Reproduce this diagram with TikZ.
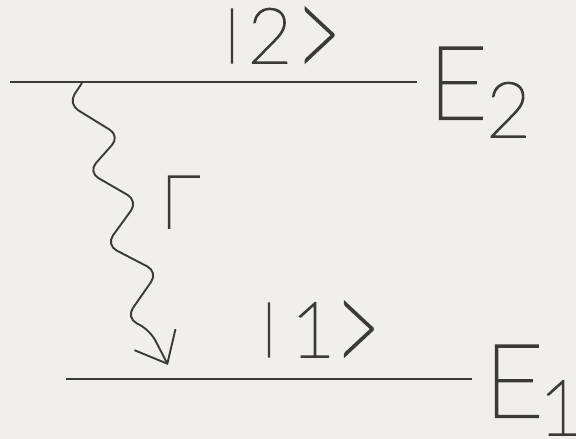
\documentclass[tikz,border=0pt]{standalone}
\usepackage{fontspec}
\newfontfamily\hair{Lato Hairline}[FakeBold=2.2]
\usetikzlibrary{arrows.meta}
\definecolor{bg}{HTML}{F0EFEB}
\definecolor{ink}{HTML}{3A3A3A}
\newcommand{\tallgt}{\raisebox{-19.3pt}{\scalebox{1}[1.83]{>}}}
\newcommand{\shortbar}{\raisebox{10.5pt}{\scalebox{1}[0.75]{|}}}
\begin{document}
\begin{tikzpicture}[x=1pt,y=-1pt,
  level/.style={draw=ink,line width=1.8pt},
  wave/.style={draw=ink,line width=1.9pt,rounded corners=12pt,line join=miter,
    -{Straight Barb[length=27pt,width=46pt,line join=miter]}},
  lbl/.style={inner sep=0pt,anchor=base west,text=ink}]
\fill[bg] (0,0) rectangle (576,439);
\useasboundingbox (0,0) rectangle (576,439);
% levels
\coordinate (t1) at (10,82);  \coordinate (t2) at (417,82);
\coordinate (b1) at (66,379); \coordinate (b2) at (472,379);
\draw[level] (t1) -- (t2);
\draw[level] (b1) -- (b2);
% labels
\node[lbl,font=\fontsize{77}{77}\hair\selectfont] (k2) at (223,63) {\shortbar\hspace{6.8pt}2\hspace{3.8pt}\tallgt};
\node[lbl,font=\fontsize{102}{102}\hair\selectfont] (E2) at (428,119) {\makebox[44pt][l]{E}};
\node[lbl,font=\fontsize{77}{77}\hair\selectfont] (s2) at (486,137) {2};
\node[lbl,font=\fontsize{74}{74}\hair\selectfont] (G) at (160,228) {Γ};
\node[lbl,font=\fontsize{77}{77}\hair\selectfont] (k1) at (260,357) {\shortbar\,1\tallgt};
\node[lbl,font=\fontsize{102}{102}\hair\selectfont] (E1) at (484,417) {\makebox[44pt][l]{E}};
\node[lbl,anchor=base,font=\fontsize{77}{77}\hair\selectfont] (s1) at (561,435) {\makebox[24pt]{1}};
% wavy decay
\coordinate (w0) at (82,83);
\coordinate (w1) at (68,104);
\coordinate (w2) at (120,136);
\coordinate (w3) at (88,172);
\coordinate (w4) at (138,201);
\coordinate (w5) at (106,245);
\coordinate (w6) at (158,272);
\coordinate (w7) at (126,318);
\coordinate (w8) at (150,330);
\coordinate (tip) at (168,365);
\draw[wave] (w0) -- (w1) -- (w2) -- (w3) -- (w4) -- (w5) -- (w6) -- (w7) -- (w8) -- (tip);
\end{tikzpicture}
\end{document}
